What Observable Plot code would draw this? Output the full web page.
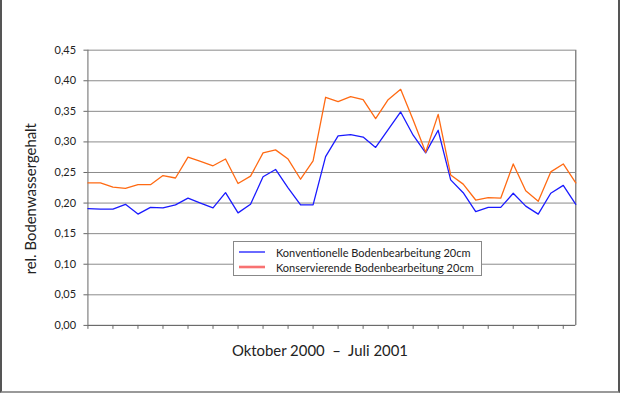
<!DOCTYPE html>
<html>
<head>
<meta charset="utf-8">
<script src="https://cdn.jsdelivr.net/npm/d3@7"></script>
<script src="https://cdn.jsdelivr.net/npm/@observablehq/plot@0.6"></script>
<style>
  html, body { margin: 0; padding: 0; background: #fff; }
  #wrap { position: relative; width: 620px; height: 393px; box-sizing: border-box;
          border-left: 2px solid #555; border-right: 2px solid #555; border-bottom: 2px solid #999;
          font-family: Lato, "Open Sans", sans-serif; overflow: hidden; }
  #chart { position: absolute; left: -2px; top: 0; }
  #legend { position: absolute; left: 231px; top: 241px; width: 249px; height: 35px;
            border: 1px solid #888; background: #fff; font-size: 11px; color: #222; box-sizing: border-box; }
  .row { position: absolute; left: 5px; height: 14px; display: flex; align-items: center; white-space: nowrap; }
  .row svg { flex: 0 0 26px; margin-right: 11px; display: block; }
</style>
</head>
<body>
<div id="wrap">
  <div id="chart"></div>
  <div id="legend">
    <div class="row" style="top:3px"><svg width="26" height="6"><line x1="0" x2="26" y1="3" y2="3" stroke="#1a1aff" stroke-width="1.3"/></svg><span>Konventionelle Bodenbearbeitung 20cm</span></div>
    <div class="row" style="top:18px"><svg width="26" height="6"><line x1="0" x2="26" y1="3" y2="3" stroke="#f87272" stroke-width="2.6"/></svg><span>Konservierende Bodenbearbeitung 20cm</span></div>
  </div>
</div>
<script>
// Series values (40 measurement dates, Oktober 2000 – Juli 2001)
const konventionell = [
  0.191, 0.190, 0.190, 0.198, 0.182, 0.193, 0.192, 0.197, 0.208, 0.200,
  0.192, 0.217, 0.184, 0.198, 0.243, 0.255, 0.225, 0.197, 0.197, 0.276,
  0.310, 0.312, 0.308, 0.291, 0.320, 0.349, 0.311, 0.282, 0.319, 0.238,
  0.217, 0.186, 0.193, 0.193, 0.216, 0.195, 0.182, 0.216, 0.229, 0.198
];
const konservierend = [
  0.233, 0.233, 0.226, 0.224, 0.230, 0.230, 0.245, 0.241, 0.275, 0.268,
  0.261, 0.272, 0.232, 0.244, 0.282, 0.287, 0.272, 0.239, 0.269, 0.373,
  0.366, 0.374, 0.369, 0.338, 0.369, 0.386, 0.336, 0.283, 0.345, 0.246,
  0.231, 0.205, 0.209, 0.208, 0.264, 0.220, 0.203, 0.251, 0.264, 0.233
];
const yTicks = [0, 0.05, 0.10, 0.15, 0.20, 0.25, 0.30, 0.35, 0.40, 0.45];
const yLabel = "rel. Bodenwassergehalt";
const xLabel = "Oktober 2000  \u2013  Juli 2001";
const seriesNames = ["Konventionelle Bodenbearbeitung 20cm", "Konservierende Bodenbearbeitung 20cm"];

const idx = konventionell.map((_, i) => i);
const xTicks = idx.filter(i => i % 2 === 0);
const rows = [
  ...konventionell.map((v, i) => ({i, v, s: seriesNames[0]})),
  ...konservierend.map((v, i) => ({i, v, s: seriesNames[1]}))
];

const chart = Plot.plot({
  width: 622, height: 393,
  marginLeft: 88, marginRight: 43, marginTop: 50, marginBottom: 66,
  style: {fontFamily: "Lato, 'Open Sans', sans-serif", fontSize: "11px", color: "#222", background: "transparent"},
  x: {type: "linear", domain: [0, 39], axis: null},
  y: {domain: [0, 0.45], axis: null},
  color: {domain: seriesNames, range: ["#1a1aff", "#ff6a13"]},
  marks: [
    Plot.gridY(yTicks, {stroke: "#8a8a8a", strokeOpacity: 1, strokeWidth: 1}),
    Plot.ruleX([39], {stroke: "#777", strokeWidth: 1.3}),
    Plot.axisY(yTicks, {tickSize: 4, tickPadding: 8, stroke: "#666", fontSize: 11,
      tickFormat: d => d.toFixed(2).replace(".", ","), label: null}),
    Plot.axisX(xTicks, {tickSize: 4, stroke: "#666", tickFormat: () => "", label: null}),
    Plot.ruleX([0], {stroke: "#666", strokeWidth: 1}),
    Plot.ruleY([0], {stroke: "#666", strokeWidth: 1}),
    Plot.line(rows, {x: "i", y: "v", z: "s", stroke: "s", strokeWidth: 1.3}),
    Plot.text([yLabel], {frameAnchor: "left", dx: -57, dy: 11, rotate: -90, textAnchor: "middle", lineAnchor: "middle", fontSize: 15, fill: "#222"}),
    Plot.text([xLabel], {frameAnchor: "bottom", dy: 26, dx: -12, textAnchor: "middle", lineAnchor: "middle", fontSize: 15, fill: "#222"})
  ]
});
document.getElementById("chart").appendChild(chart);
</script>
</body>
</html>
